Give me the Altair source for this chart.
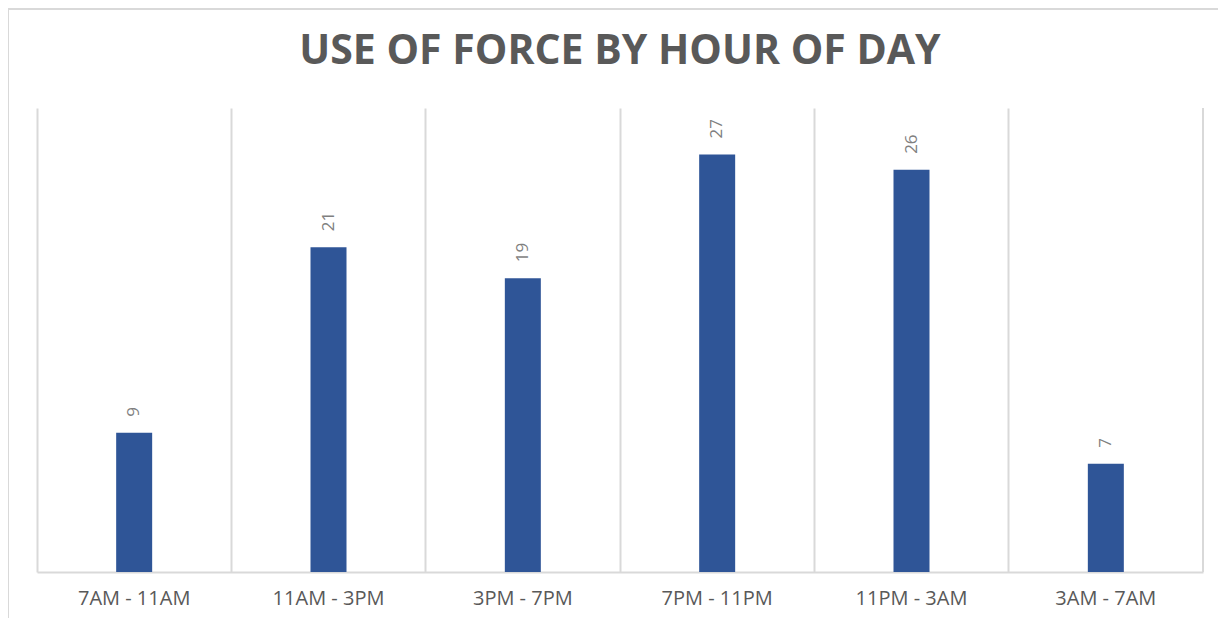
import altair as alt
import pandas as pd

categories = ["7AM - 11AM", "11AM - 3PM", "3PM - 7PM", "7PM - 11PM", "11PM - 3AM", "3AM - 7AM"]
counts = [9, 21, 19, 27, 26, 7]

df = pd.DataFrame({"period": categories, "count": counts})

W, H = 1166, 464

x_enc = alt.X(
    "period:N",
    sort=categories,
    scale=alt.Scale(paddingInner=0, paddingOuter=0),
    axis=alt.Axis(
        title=None,
        labelAngle=0,
        labelFont="Open Sans",
        labelFontSize=20,
        labelColor="#595959",
        labelPadding=16,
        ticks=False,
        domainColor="#d9d9d9",
        domainWidth=2,
        grid=True,
        gridColor="#d9d9d9",
        gridWidth=2,
        bandPosition=0,
    ),
)
y_enc = alt.Y("count:Q", scale=alt.Scale(domain=[0, 30]), axis=None)

base = alt.Chart(df)

bars = base.mark_bar(size=36, color="#2F5597").encode(x=x_enc, y=y_enc)

labels = base.mark_text(
    angle=270, align="left", baseline="middle", dx=16,
    font="Open Sans", fontSize=17, color="#7F7F7F",
).encode(x=x_enc, y=y_enc, text="count:Q")

right_grid = base.mark_rule(color="#d9d9d9", strokeWidth=2).encode(
    x=alt.value(W), y=alt.value(0), y2=alt.value(H)
)

left_border = base.mark_rule(color="#d9d9d9", strokeWidth=2, clip=False).encode(
    x=alt.value(-29), y=alt.value(-100), y2=alt.value(H + 60)
)
top_border = base.mark_rule(color="#d9d9d9", strokeWidth=2, clip=False).encode(
    x=alt.value(-29), x2=alt.value(W + 30), y=alt.value(-99)
)

chart = (
    alt.layer(right_grid, bars, labels, left_border, top_border)
    .properties(
        width=W,
        height=H,
        background="white",
        autosize=alt.AutoSizeParams(type="none"),
        padding={"left": 29, "top": 100, "right": 15, "bottom": 46},
        title=alt.TitleParams(
            "USE OF FORCE BY HOUR OF DAY",
            font="Open Sans",
            fontSize=41,
            fontWeight="bold",
            color="#595959",
            anchor="middle",
            frame="group",
            baseline="alphabetic",
            offset=44,
            dy=142,
        ),
    )
    .configure_view(strokeWidth=0, stroke="transparent")
)

chart.save("out.html", embed_options={"renderer": "svg", "actions": False})
